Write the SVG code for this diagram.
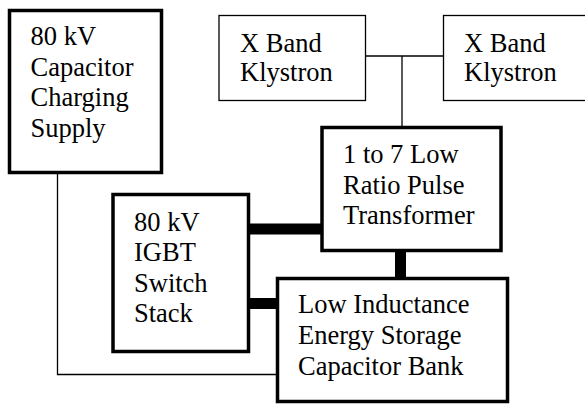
<svg xmlns="http://www.w3.org/2000/svg" width="585" height="404" viewBox="0 0 585 404">
<style>
text{font-family:"Liberation Serif","DejaVu Serif",serif;font-size:26.5px;fill:#000}
.thick{fill:#fff;stroke:#000;stroke-width:3.5}
.thin{fill:#fff;stroke:#000;stroke-width:1.3}
.wire{fill:none;stroke:#000;stroke-width:1.3}
.bus{fill:none;stroke:#000;stroke-width:11}
</style>
<rect width="585" height="404" fill="#fff"/>
<g id="connectors">
<polyline class="wire" points="57.5,172 57.5,374.5 277,374.5"/>
<line class="wire" x1="366" y1="56" x2="443" y2="56"/>
<line class="wire" x1="402" y1="56" x2="402" y2="127"/>
<line class="bus" x1="250" y1="229" x2="322" y2="229"/>
<line class="bus" x1="250" y1="303.5" x2="277" y2="303.5"/>
<line class="bus" x1="400.5" y1="251" x2="400.5" y2="278"/>
</g>
<g id="supply">
<rect class="thick" x="9.5" y="10.5" width="152" height="162"/>
<text x="30.5" y="45">80 kV</text>
<text x="30.5" y="76">Capacitor</text>
<text x="30.5" y="106">Charging</text>
<text x="30.5" y="136.5">Supply</text>
</g>
<g id="klystron1">
<rect class="thin" x="219" y="15.5" width="146.5" height="85"/>
<text x="240" y="52">X Band</text>
<text x="240" y="81">Klystron</text>
</g>
<g id="klystron2">
<rect class="thin" x="443.5" y="15.5" width="150" height="85"/>
<text x="464" y="52">X Band</text>
<text x="464" y="81">Klystron</text>
</g>
<g id="transformer">
<rect class="thick" x="322" y="127.5" width="179" height="123"/>
<text x="343" y="163">1 to 7 Low</text>
<text x="343" y="194">Ratio Pulse</text>
<text x="343" y="224">Transformer</text>
</g>
<g id="igbt">
<rect class="thick" x="113" y="194.5" width="135.5" height="157"/>
<text x="134" y="231">80 kV</text>
<text x="134" y="261">IGBT</text>
<text x="134" y="291.5">Switch</text>
<text x="134" y="322">Stack</text>
</g>
<g id="capbank">
<rect class="thick" x="277.5" y="278.5" width="230" height="123"/>
<text x="298" y="313">Low Inductance</text>
<text x="298" y="344">Energy Storage</text>
<text x="298" y="375">Capacitor Bank</text>
</g>
</svg>
